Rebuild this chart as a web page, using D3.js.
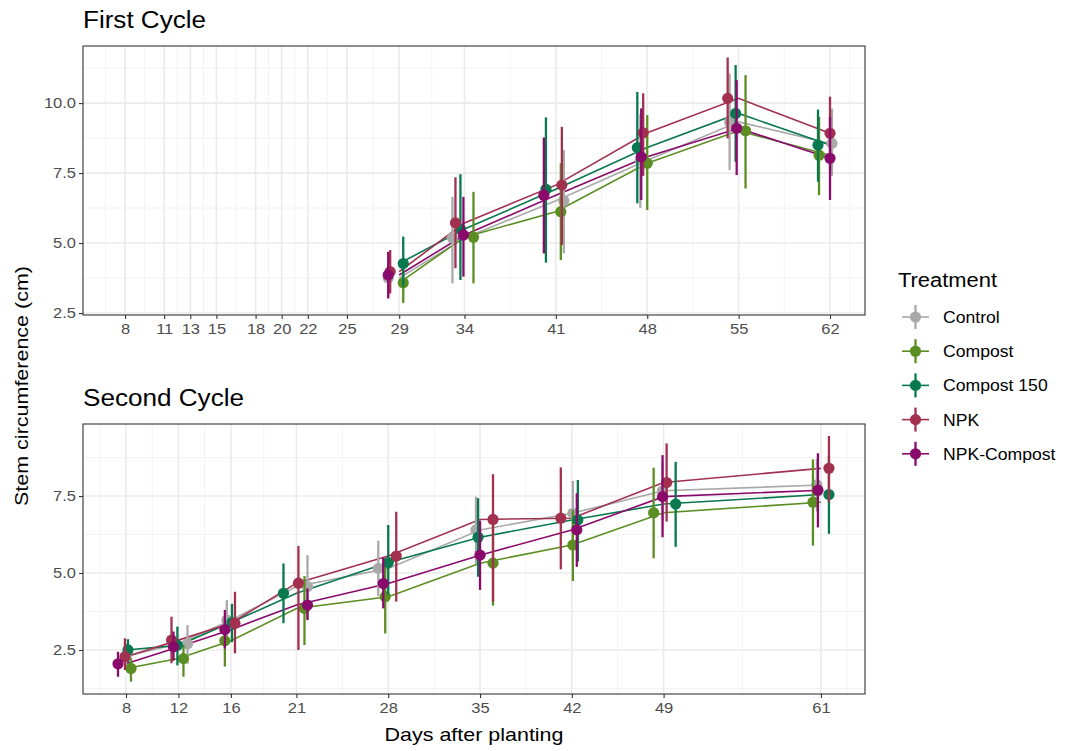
<!DOCTYPE html>
<html>
<head>
<meta charset="utf-8">
<script src="https://cdn.jsdelivr.net/npm/d3@7"></script>
<style>
  body { margin: 0; background: #fff; }
  svg text { font-family: "Liberation Sans", Arial, sans-serif; }
</style>
</head>
<body>
<svg id="chart" width="1067" height="751"></svg>
<script>
var treatments = ["Control", "Compost", "Compost 150", "NPK", "NPK-Compost"];
var colors = ["#a9a9a9", "#5b8e22", "#08784f", "#a1314f", "#8a0a6c"];

// First cycle (rows follow treatments)
var firstDays = [29, 34, 41, 48, 55, 62];
var firstTicks = [8, 11, 13, 15, 18, 20, 22, 25, 29, 34, 41, 48, 55, 62];
var firstMean = [
  [3.75, 5.18, 6.51, 7.96, 9.33, 8.56],
  [3.58, 5.21, 6.12, 7.85, 9.01, 8.14],
  [4.27, 5.50, 6.92, 8.41, 9.63, 8.50],
  [3.98, 5.72, 7.07, 8.94, 10.17, 8.92],
  [3.86, 5.29, 6.71, 8.08, 9.10, 8.03]
];
var firstLow = [
  [3.10, 3.56, 4.64, 6.26, 7.61, 7.40],
  [2.86, 3.56, 4.39, 6.18, 6.95, 6.71],
  [3.44, 3.68, 4.30, 6.42, 7.90, 7.19],
  [3.20, 4.10, 4.93, 7.40, 8.74, 7.60],
  [3.02, 3.80, 4.63, 6.54, 7.43, 6.54]
];
var firstHigh = [
  [4.40, 6.65, 8.32, 9.60, 11.06, 9.80],
  [4.30, 6.83, 7.85, 9.57, 11.00, 9.51],
  [5.23, 7.46, 9.49, 10.40, 11.36, 9.77],
  [4.75, 7.35, 9.15, 10.35, 11.63, 10.23],
  [4.69, 6.65, 8.77, 9.81, 10.82, 9.51]
];
// horizontal jitter of points and bars, in days
var firstJitter = [
  [-0.84, -0.92, 0.61, -0.53, -0.69, 0.15],
  [0.31, 0.69, 0.38, 0.00, 0.53, -0.84],
  [0.31, -0.31, -0.76, -0.76, -0.23, -0.92],
  [-0.69, -0.69, 0.46, -0.31, -0.84, 0.00],
  [-0.84, -0.08, -0.92, -0.46, -0.15, 0.00]
];

// Second cycle
var secondDays = [8, 12, 16, 21, 28, 35, 42, 49, 61];
var secondTicks = [8, 12, 16, 21, 28, 35, 42, 49, 61];
var secondMean = [
  [2.30, 2.70, 3.47, 4.56, 5.15, 6.40, 6.94, 7.67, 7.86],
  [1.90, 2.22, 2.80, 3.85, 4.23, 5.32, 5.91, 6.96, 7.30],
  [2.50, 2.65, 3.39, 4.34, 5.34, 6.16, 6.72, 7.24, 7.55],
  [2.28, 2.82, 3.37, 4.67, 5.55, 6.74, 6.78, 7.94, 8.40],
  [2.05, 2.60, 3.16, 3.96, 4.66, 5.58, 6.40, 7.48, 7.69]
];
var secondLow = [
  [1.90, 2.05, 2.90, 3.50, 4.25, 5.30, 5.90, 6.70, 7.00],
  [1.47, 1.63, 1.96, 2.66, 3.04, 3.94, 4.74, 5.48, 5.89],
  [2.10, 2.00, 2.75, 3.37, 4.30, 4.88, 5.37, 5.85, 6.27],
  [1.85, 2.07, 2.39, 2.50, 4.07, 4.07, 5.12, 6.67, 7.30],
  [1.63, 2.15, 2.55, 3.47, 3.85, 4.45, 5.20, 6.16, 6.48]
];
var secondHigh = [
  [2.70, 3.31, 4.12, 5.58, 6.05, 7.48, 7.99, 8.60, 8.70],
  [2.23, 2.66, 3.47, 4.90, 5.40, 6.70, 7.05, 8.42, 8.69],
  [2.85, 3.26, 4.00, 5.31, 6.56, 7.43, 8.02, 8.61, 8.80],
  [2.88, 3.58, 4.39, 5.88, 6.99, 8.21, 8.43, 9.21, 9.45],
  [2.44, 3.10, 3.80, 4.50, 5.50, 6.70, 7.59, 8.83, 8.89]
];
var secondJitter = [
  [0.00, 0.69, -0.31, 0.84, -0.76, -0.31, 0.08, -0.08, -0.31],
  [0.38, 0.38, -0.46, 0.61, -0.23, 0.99, 0.08, -0.76, -0.61],
  [0.15, -0.08, 0.08, -0.99, 0.00, -0.15, 0.46, 0.92, 0.61],
  [-0.08, -0.53, 0.31, 0.15, 0.61, 0.99, -0.84, 0.23, 0.61],
  [-0.61, -0.38, -0.46, 0.84, -0.38, 0.00, 0.38, -0.08, -0.23]
];

var yTicks = [2.5, 5.0, 7.5, 10.0];

var svg = d3.select("#chart");

// ggplot style minor breaks: halfway between majors, padded by the first gap
function minorBreaks(b, domain) {
  var bd = b[1] - b[0];
  var ext = [b[0] - bd].concat(b, [b[b.length - 1] + bd]);
  var out = [];
  for (var i = 0; i < ext.length - 1; i++) out.push((ext[i] + ext[i + 1]) / 2);
  return out.filter(function(v) { return v > domain[0] && v < domain[1]; });
}

// the original text renders a bit wider than Liberation Sans
function widen(sel, k) {
  sel.each(function() {
    var w = this.getComputedTextLength();
    d3.select(this).attr("textLength", w * k).attr("lengthAdjust", "spacingAndGlyphs");
  });
}

function drawPanel(o) {
  var x = d3.scaleLinear().domain(o.xDomain).range([o.left, o.right]);
  var y = d3.scaleLinear().domain(o.yDomain).range([o.bottom, o.top]);
  var g = svg.append("g");

  var yMajor = yTicks.filter(function(v) { return v >= o.yDomain[0] && v <= o.yDomain[1]; });
  var yMinor = minorBreaks(yTicks, o.yDomain);
  var xMinor = minorBreaks(o.ticks, o.xDomain);

  var grid = g.append("g");
  grid.selectAll(".ymin").data(yMinor).enter().append("line")
    .attr("x1", o.left).attr("x2", o.right)
    .attr("y1", y).attr("y2", y)
    .attr("stroke", "#f2f2f2").attr("stroke-width", 0.9);
  grid.selectAll(".xmin").data(xMinor).enter().append("line")
    .attr("y1", o.top).attr("y2", o.bottom)
    .attr("x1", x).attr("x2", x)
    .attr("stroke", "#f2f2f2").attr("stroke-width", 0.9);
  grid.selectAll(".ymaj").data(yMajor).enter().append("line")
    .attr("x1", o.left).attr("x2", o.right)
    .attr("y1", y).attr("y2", y)
    .attr("stroke", "#ebebeb").attr("stroke-width", 1.6);
  grid.selectAll(".xmaj").data(o.ticks).enter().append("line")
    .attr("y1", o.top).attr("y2", o.bottom)
    .attr("x1", x).attr("x2", x)
    .attr("stroke", "#ebebeb").attr("stroke-width", 1.6);

  var line = d3.line()
    .x(function(d) { return x(d.day); })
    .y(function(d) { return y(d.mean); });

  var series = treatments.map(function(t, i) {
    return o.days.map(function(day, j) {
      return { day: day, mean: o.mean[i][j], low: o.low[i][j], high: o.high[i][j], jit: o.jitter[i][j] };
    });
  });

  g.selectAll(".trend").data(series).enter().append("path")
    .attr("d", line)
    .attr("fill", "none")
    .attr("stroke", function(d, i) { return colors[i]; })
    .attr("stroke-width", 1.6);

  series.forEach(function(s, i) {
    var sg = g.append("g");
    sg.selectAll("line").data(s).enter().append("line")
      .attr("x1", function(d) { return x(d.day + d.jit); })
      .attr("x2", function(d) { return x(d.day + d.jit); })
      .attr("y1", function(d) { return y(d.low); })
      .attr("y2", function(d) { return y(d.high); })
      .attr("stroke", colors[i])
      .attr("stroke-width", 2.3);
    sg.selectAll("circle").data(s).enter().append("circle")
      .attr("cx", function(d) { return x(d.day + d.jit); })
      .attr("cy", function(d) { return y(d.mean); })
      .attr("r", 5.6)
      .attr("fill", colors[i]);
  });

  g.append("rect")
    .attr("x", o.left).attr("y", o.top)
    .attr("width", o.right - o.left).attr("height", o.bottom - o.top)
    .attr("fill", "none").attr("stroke", "#333333").attr("stroke-width", 1.1);

  var yAxis = g.append("g")
    .attr("transform", "translate(" + o.left + ",0)")
    .call(d3.axisLeft(y).tickValues(yMajor).tickFormat(d3.format(".1f")).tickSize(4).tickPadding(3).tickSizeOuter(0));
  var xAxis = g.append("g")
    .attr("transform", "translate(0," + o.bottom + ")")
    .call(d3.axisBottom(x).tickValues(o.ticks).tickFormat(d3.format("d")).tickSize(4).tickPadding(4).tickSizeOuter(0));
  [yAxis, xAxis].forEach(function(ax) {
    ax.select(".domain").remove();
    ax.selectAll(".tick line").attr("stroke", "#333333").attr("stroke-width", 1.1);
    ax.selectAll(".tick text").attr("fill", "#4d4d4d").style("font-size", "15px");
    widen(ax.selectAll(".tick text"), 1.1);
  });

  g.append("text")
    .attr("x", o.left).attr("y", o.top - 18)
    .style("font-size", "23px").attr("fill", "#000")
    .attr("textLength", o.titleWidth).attr("lengthAdjust", "spacingAndGlyphs")
    .text(o.title);
}

drawPanel({
  title: "First Cycle", titleWidth: 123,
  left: 83, right: 865, top: 46, bottom: 315,
  xDomain: [4.78, 64.68], yDomain: [2.43, 12.04],
  days: firstDays, ticks: firstTicks,
  mean: firstMean, low: firstLow, high: firstHigh, jitter: firstJitter
});

drawPanel({
  title: "Second Cycle", titleWidth: 161,
  left: 83, right: 865, top: 424, bottom: 694,
  xDomain: [4.72, 64.36], yDomain: [1.07, 9.84],
  days: secondDays, ticks: secondTicks,
  mean: secondMean, low: secondLow, high: secondHigh, jitter: secondJitter
});

// axis titles
svg.append("text")
  .attr("x", 474).attr("y", 741)
  .attr("text-anchor", "middle")
  .style("font-size", "19px")
  .attr("textLength", 179).attr("lengthAdjust", "spacingAndGlyphs")
  .text("Days after planting");
svg.append("text")
  .attr("transform", "translate(28,386) rotate(-90)")
  .attr("text-anchor", "middle")
  .style("font-size", "19px")
  .attr("textLength", 240).attr("lengthAdjust", "spacingAndGlyphs")
  .text("Stem circumference (cm)");

// legend
var legend = svg.append("g").attr("transform", "translate(898,287)");
legend.append("text")
  .style("font-size", "20px")
  .attr("textLength", 99).attr("lengthAdjust", "spacingAndGlyphs")
  .text("Treatment");
var item = legend.selectAll(".item").data(treatments).enter().append("g")
  .attr("transform", function(d, i) { return "translate(1," + (30 + i * 34.2) + ")"; });
item.append("line")
  .attr("x1", 3).attr("x2", 30).attr("y1", 0).attr("y2", 0)
  .attr("stroke", function(d, i) { return colors[i]; })
  .attr("stroke-width", 1.6);
item.append("line")
  .attr("x1", 16.5).attr("x2", 16.5).attr("y1", -12).attr("y2", 12)
  .attr("stroke", function(d, i) { return colors[i]; })
  .attr("stroke-width", 2.3);
item.append("circle")
  .attr("cx", 16.5).attr("cy", 0).attr("r", 5.6)
  .attr("fill", function(d, i) { return colors[i]; });
var labels = item.append("text")
  .attr("x", 44).attr("y", 6)
  .style("font-size", "16px")
  .text(function(d) { return d; });
widen(labels, 1.1);
</script>
</body>
</html>
